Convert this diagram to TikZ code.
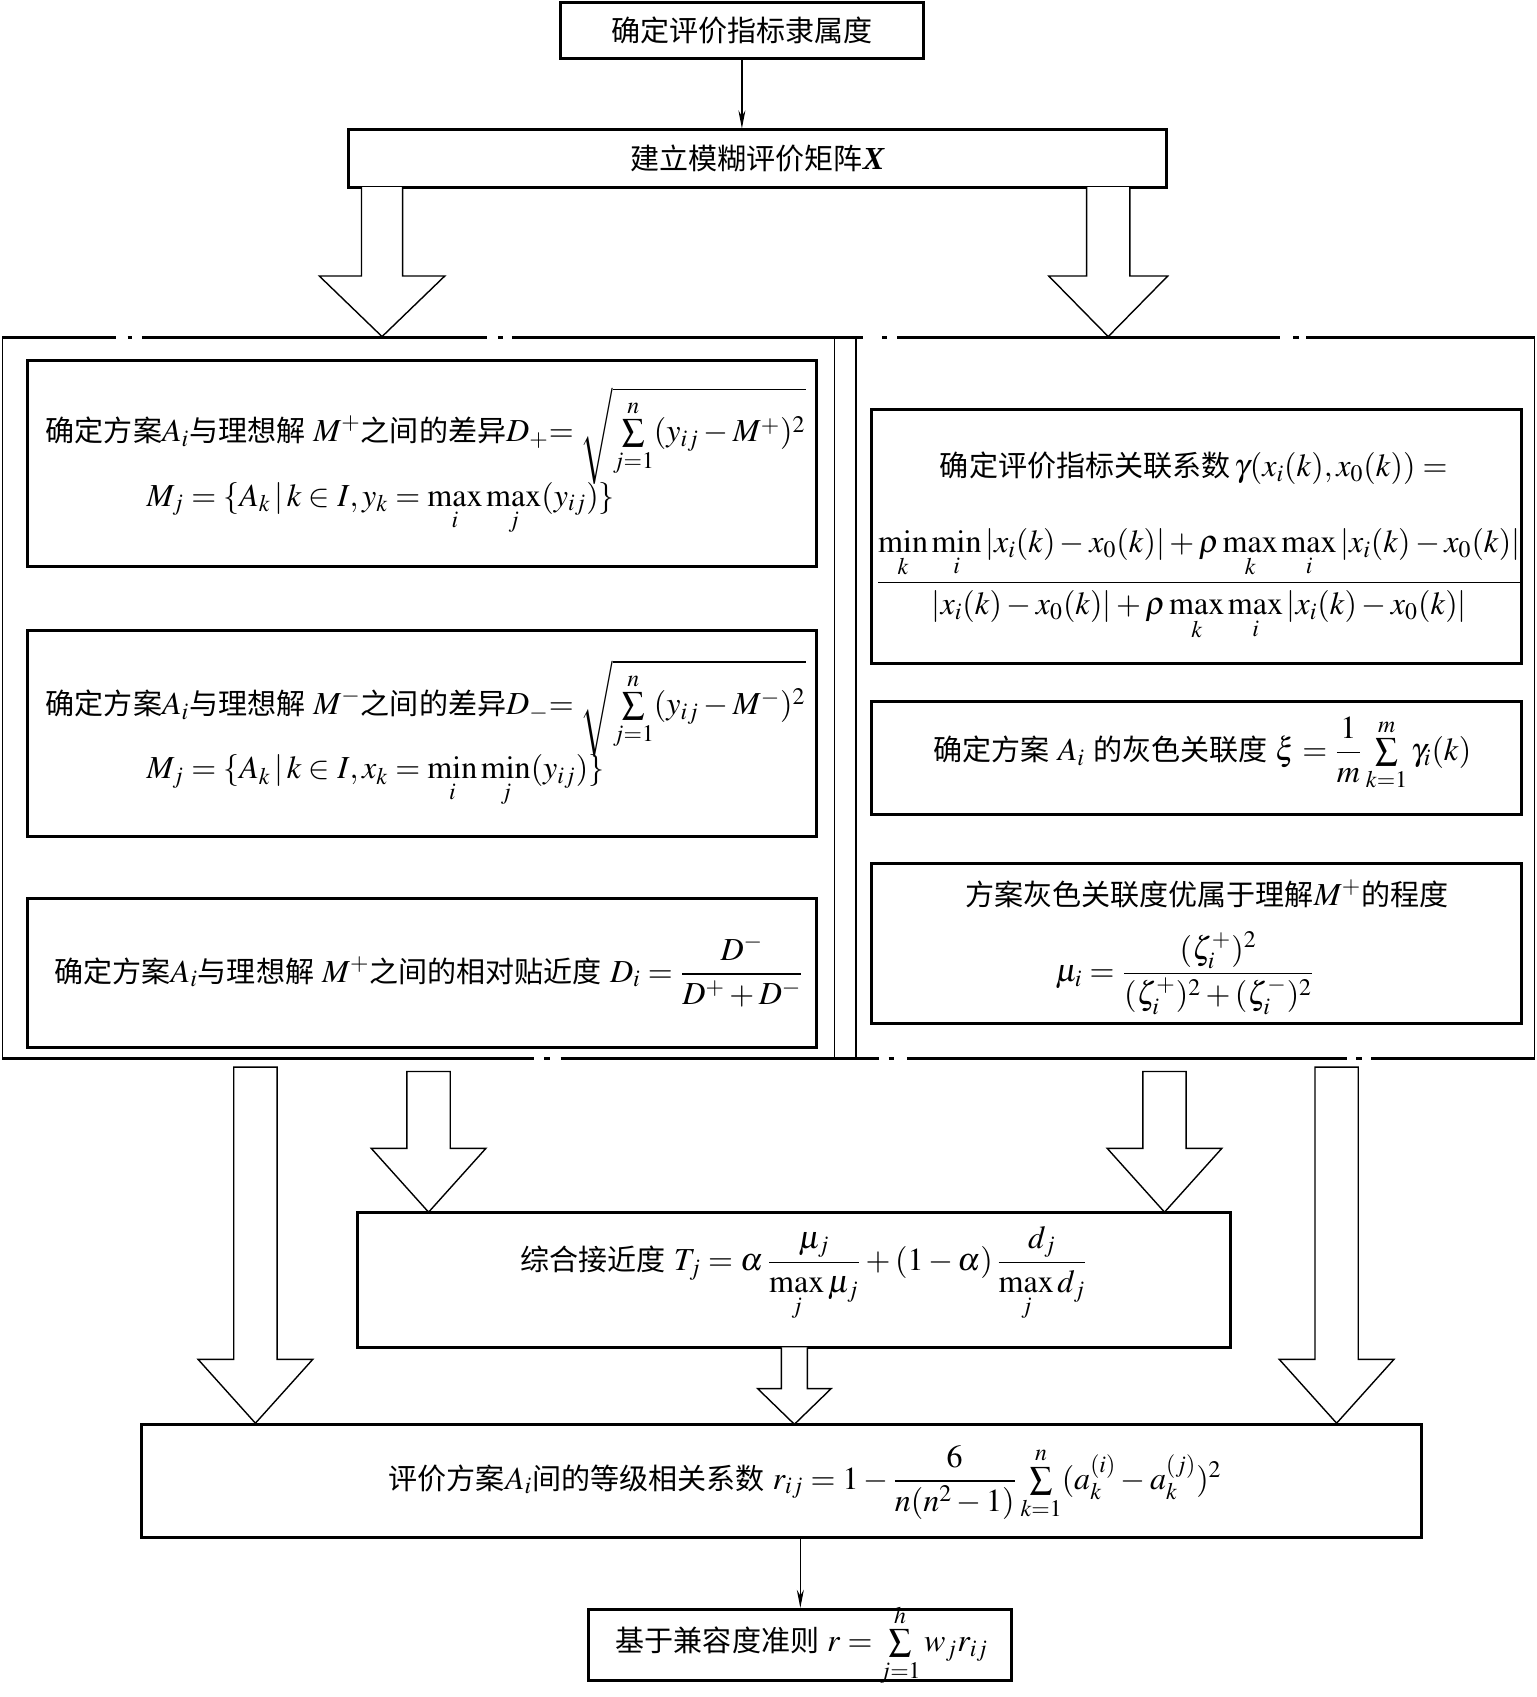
\documentclass[tikz,border=0pt]{standalone}
\usepackage{amsmath}
\usepackage{mathptmx}
\usepackage{fontspec}
\setmainfont{Liberation Serif}
\newfontfamily\cjk[Scale=0.906]{Noto Sans CJK SC}
\usetikzlibrary{arrows.meta}
\newcommand\zh[1]{{\cjk #1}}
% cx, top, base, tip, shaft half, head half
\newcommand\openarr[6]{\draw[barrow] (#1-#5,#2) -- (#1-#5,#3) -- (#1-#6,#3) -- (#1,#4) -- (#1+#6,#3) -- (#1+#5,#3) -- (#1+#5,#2);}
\newcommand\closedarr[6]{\draw[barrow] (#1-#5,#2) -- (#1-#5,#3) -- (#1-#6,#3) -- (#1,#4) -- (#1+#6,#3) -- (#1+#5,#3) -- (#1+#5,#2) -- cycle;}
\begin{document}
\begin{tikzpicture}[x=0.54pt,y=-0.54pt,
  box/.style={draw, line width=1.5pt, rectangle, inner sep=0pt},
  txt/.style={inner sep=0pt, font=\fontsize{16}{19}\selectfont},
  barrow/.style={draw, line width=0.7pt, fill=white, line join=miter},
  thinarr/.style={-{Stealth[length=9pt,width=3.5pt]}, line width=0.6pt},
  frthin/.style={line width=0.6pt},
  frthick/.style={line width=1.6pt}]
\useasboundingbox (0,0) rectangle (1420,1568);

% ---- top boxes
\node[box, minimum width={335*0.54pt}, minimum height={52*0.54pt}] (top) at (685.5,28) {};
\node[txt] (toptxt) at (top.center) {\zh{确定评价指标隶属度}};
\node[box, minimum width={756*0.54pt}, minimum height={53*0.54pt}] (mat) at (700,146.5) {};
\node[txt] (mattxt) at (mat.center) {\zh{建立模糊评价矩阵}\textbf{\textit{X}}};
\draw[thinarr] (top.south) -- (top.south |- mat.north);

% ---- frame
\draw[frthin] (2,312) -- (2,978) (1418,312) -- (1418,978)
  (771,312) -- (771,978) (791,312) -- (791,978);
\draw[frthick] (2,312) -- (107,312) (118,312) -- (122,312) (131,312) -- (450,312)
  (460,312) -- (465,312) (473,312) -- (797,312) (815,312) -- (820,312)
  (829,312) -- (1183,312) (1195,312) -- (1200,312) (1207,312) -- (1418,312);
\draw[frthick] (2,978) -- (493,978) (503,978) -- (508,978) (518,978) -- (812,978)
  (821,978) -- (826,978) (838,978) -- (1245,978) (1253,978) -- (1258,978) (1267,978) -- (1418,978);

% ---- block arrows from matrix box
\openarr{353}{173}{255}{311}{19}{58}
\openarr{1024}{173}{255}{311}{20}{55}

% ---- left panel
\node[box, minimum width={729*0.54pt}, minimum height={190*0.54pt}] (L1) at (389.5,428) {};
\node[txt, anchor=west] (L1a) at (42,403) {\zh{确定方案}$A_i$\zh{与理想解} $M^{+}$\zh{之间的差异}$D_{+}{=}\;\sqrt{\sum\limits_{j=1}^{n}(y_{ij}-M^{+})^{2}}$};
\node[txt, anchor=west] (L1b) at (135,470) {$M_j=\{A_k\,|\,k\in I,y_k=\max\limits_i\max\limits_j(y_{ij})\}$};

\node[box, minimum width={729*0.54pt}, minimum height={190*0.54pt}] (L2) at (389.5,678) {};
\node[txt, anchor=west] (L2a) at (42,655) {\zh{确定方案}$A_i$\zh{与理想解} $M^{-}$\zh{之间的差异}$D_{-}{=}\;\sqrt{\sum\limits_{j=1}^{n}(y_{ij}-M^{-})^{2}}$};
\node[txt, anchor=west] (L2b) at (135,722) {$M_j=\{A_k\,|\,k\in I,x_k=\min\limits_i\min\limits_j(y_{ij})\}$};

\node[box, minimum width={729*0.54pt}, minimum height={138*0.54pt}] (L3) at (389.5,899) {};
\node[txt, anchor=west] (L3a) at (50,897) {\zh{确定方案}$A_i$\zh{与理想解} $M^{+}$\zh{之间的相对贴近度} $D_i=\dfrac{D^{-}}{D^{+}+D^{-}}$};

% ---- right panel
\node[box, minimum width={601*0.54pt}, minimum height={235*0.54pt}] (R1) at (1105.5,495.5) {};
\node[txt] (R1a) at (1103,433) {\zh{确定评价指标关联系数}$\,\gamma(x_i(k),x_0(k))=$};
\node[txt] (R1b) at (1108,540) {$\dfrac{\min\limits_k\min\limits_i|x_i(k)-x_0(k)|+\rho\max\limits_k\max\limits_i|x_i(k)-x_0(k)|\rule[-5pt]{0pt}{5pt}}{\rule{0pt}{14pt}|x_i(k)-x_0(k)|+\rho\max\limits_k\max\limits_i|x_i(k)-x_0(k)|}$};

\node[box, minimum width={601*0.54pt}, minimum height={105*0.54pt}] (R2) at (1105.5,700.5) {};
\node[txt] (R2a) at (1111,697) {\zh{确定方案} $A_i$ \zh{的灰色关联度} $\xi=\dfrac{1}{m}\sum\limits_{k=1}^{m}\gamma_i(k)$};

\node[box, minimum width={601*0.54pt}, minimum height={148*0.54pt}] (R3) at (1105.5,872) {};
\node[txt] (R3a) at (1115,826) {\zh{方案灰色关联度优属于理解}$M^{+}$\zh{的程度}};
\node[txt] (R3b) at (1095,899) {$\mu_i=\dfrac{(\zeta_i^{+})^2}{(\zeta_i^{+})^2+(\zeta_i^{-})^2}$};

% ---- lower boxes
\node[box, minimum width={807*0.54pt}, minimum height={125*0.54pt}] (T) at (733.5,1182.5) {};
\node[txt] (Ta) at (743,1177) {\zh{综合接近度} $T_j=\alpha\,\dfrac{\mu_j}{\max\limits_j\mu_j}+(1-\alpha)\,\dfrac{d_j}{\max\limits_j d_j}$};

\node[box, minimum width={1182*0.54pt}, minimum height={105*0.54pt}] (R) at (722,1368.5) {};
\node[txt] (Ra) at (744,1370) {\zh{评价方案}$A_i$\zh{间的等级相关系数} $r_{ij}=1-\dfrac{6}{n(n^2-1)}\sum\limits_{k=1}^{n}(a_k^{(i)}-a_k^{(j)})^2$};

\node[box, minimum width={391*0.54pt}, minimum height={66*0.54pt}] (last) at (739.5,1520) {};
\node[txt] (lasta) at (741,1520) {\zh{基于兼容度准则} $r=\sum\limits_{j=1}^{h}w_jr_{ij}$};

\draw[thinarr] (R.south -| last.north) -- (last.north);

% ---- block arrows below frame
\closedarr{236}{986}{1256}{1315}{20}{53}
\closedarr{396}{990}{1061}{1120}{20}{53}
\closedarr{1076}{990}{1061}{1120}{20}{53}
\closedarr{1235}{986}{1256}{1315}{20}{53}
\openarr{734}{1245}{1283}{1316}{12}{34}
\end{tikzpicture}
\end{document}
